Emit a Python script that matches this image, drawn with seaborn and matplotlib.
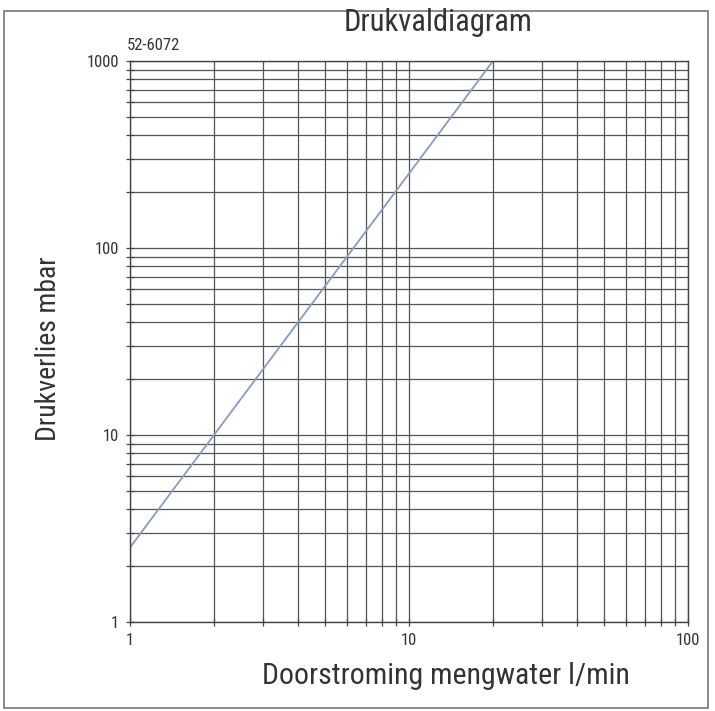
import matplotlib
matplotlib.use("Agg")
import matplotlib.pyplot as plt
import matplotlib.ticker as mticker
from matplotlib.patches import Rectangle
import seaborn as sns
import pandas as pd

# data
doorstroming = [1, 20]        # l/min
drukverlies = [2.5, 1000]     # mbar
x_ticks = [1, 10, 100]
y_ticks = [1, 10, 100, 1000]

sns.set_style("white")
plt.rcParams["font.family"] = ["Liberation Sans Narrow", "DejaVu Sans Condensed",
                               "Roboto Condensed", "Roboto", "DejaVu Sans"]

df = pd.DataFrame({"q": doorstroming, "dp": drukverlies})

fig = plt.figure(figsize=(7.15, 7.11), dpi=100)
ax = fig.add_axes([0.1818, 0.1252, 0.7804, 0.789])

sns.lineplot(data=df, x="q", y="dp", ax=ax, color="#8b9bb8", linewidth=1.3)

ax.set_xscale("log")
ax.set_yscale("log")
ax.set_xlim(1, 100)
ax.set_ylim(1, 1000)

ax.xaxis.set_major_locator(mticker.FixedLocator(x_ticks))
ax.yaxis.set_major_locator(mticker.FixedLocator(y_ticks))
ax.xaxis.set_major_formatter(mticker.FixedFormatter([str(t) for t in x_ticks]))
ax.yaxis.set_major_formatter(mticker.FixedFormatter([str(t) for t in y_ticks]))
ax.xaxis.set_minor_locator(mticker.LogLocator(base=10, subs=range(2, 10)))
ax.yaxis.set_minor_locator(mticker.LogLocator(base=10, subs=range(2, 10)))
ax.xaxis.set_minor_formatter(mticker.NullFormatter())
ax.yaxis.set_minor_formatter(mticker.NullFormatter())

ax.grid(True, which="both", color="#555555", linewidth=0.9)
ax.tick_params(which="both", direction="inout", length=6, width=0.9,
               color="#444444", bottom=True, left=True)
ax.tick_params(labelsize=12, labelcolor="#333333", pad=5)
for s in ax.spines.values():
    s.set_color("#444444")
    s.set_linewidth(1.0)

ax.set_xlabel("Doorstroming mengwater l/min", fontsize=21.5, color="#333333")
ax.set_ylabel("Drukverlies mbar", fontsize=20, color="#333333")
ax.xaxis.set_label_coords(0.566, -0.071)
ax.yaxis.set_label_coords(-0.121, 0.487)
fig.text(0.613, 0.968, "Drukvaldiagram", fontsize=22, color="#333333",
         ha="center", va="center")
fig.text(0.178, 0.925, "52-6072", fontsize=12, color="#333333",
         ha="left", va="bottom")

# outer frame of the picture
fig.patches.append(Rectangle((0.006, 0.004), 0.984, 0.981, transform=fig.transFigure,
                             fill=False, edgecolor="#777777", linewidth=1.2))

fig.savefig("out.png", dpi=100)
